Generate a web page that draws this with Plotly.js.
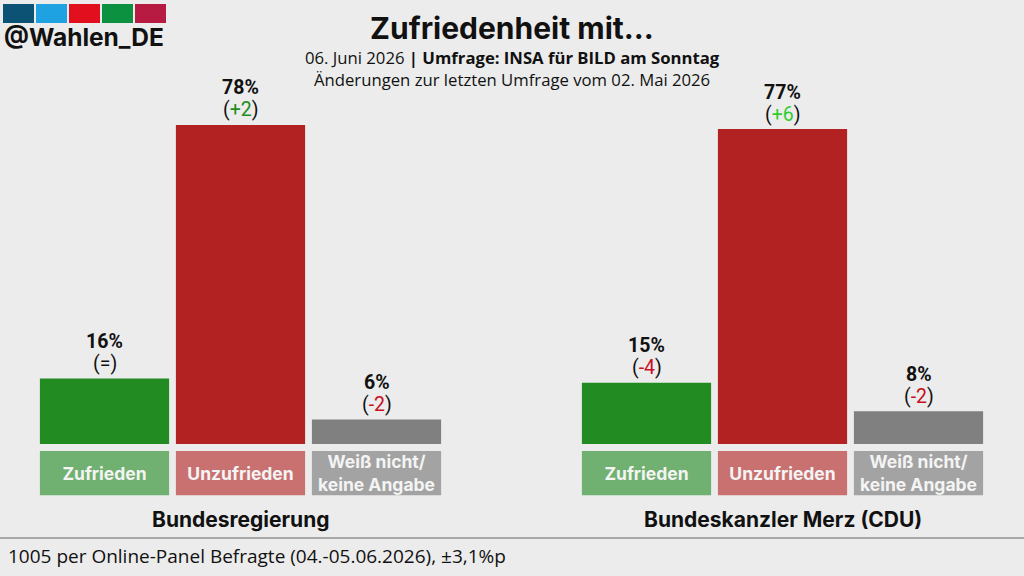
<!DOCTYPE html>
<html><head><meta charset="utf-8">
<script src="https://cdn.plot.ly/plotly-3.0.1.min.js"></script>
<style>html,body{margin:0;padding:0;background:#ececec;}#chart{width:1024px;height:576px;}</style>
</head><body><div id="chart"></div>
<script>
// ---- data ----
const categories = ["Zufrieden", "Unzufrieden", "Weiß nicht/<br>keine Angabe"];
const groupTitles = ["Bundesregierung", "Bundeskanzler Merz (CDU)"];
const regierungValues = [16, 78, 6];
const regierungChanges = ["=", "+2", "-2"];
const merzValues = [15, 77, 8];
const merzChanges = ["-4", "+6", "-2"];
const barColors = ["#228b22", "#b22222", "#808080"];
const boxColors = ["#70b070", "#c97070", "#a3a3a3"];
const changeColors = {"=": "#111111", "+2": "#1e8c1e", "+6": "#2fcc2f", "-2": "#c8101e", "-4": "#c8101e"};

const boxBase = -12.5, boxLen = 10.8;

function groupTraces(vals, xa) {
  return [
    {type: 'bar', x: categories, y: vals, xaxis: xa, yaxis: 'y',
     marker: {color: barColors}, hoverinfo: 'skip'},
    {type: 'bar', x: categories, y: categories.map(() => boxLen), base: boxBase, xaxis: xa, yaxis: 'y',
     marker: {color: boxColors}, text: categories, textposition: 'inside', insidetextanchor: 'middle',
     textfont: {family: 'Inter', size: 17.5, color: '#f4f4f4', weight: 700}, constraintext: 'none', hoverinfo: 'skip'}
  ];
}

function groupLabels(vals, chg, xa) {
  const out = [];
  vals.forEach((v, i) => {
    out.push({xref: xa, yref: 'y', x: categories[i], y: v, yshift: 37, yanchor: 'middle', showarrow: false,
      text: '<b>' + v + '%</b>', font: {family: 'Roboto', size: 19.5, color: '#111'}});
    out.push({xref: xa, yref: 'y', x: categories[i], y: v, yshift: 15, yanchor: 'middle', showarrow: false,
      text: '(<span style="color:' + changeColors[chg[i]] + '">' + chg[i] + '</span>)',
      font: {family: 'Roboto', size: 19.5, color: '#111'}});
  });
  return out;
}

const data = [].concat(groupTraces(regierungValues, 'x'), groupTraces(merzValues, 'x2'));

const axX = {type: 'category', showgrid: false, zeroline: false, showticklabels: false, showline: false, ticks: ''};
const logoColors = ["#0b5275", "#1ea2e2", "#e2101f", "#0b9140", "#b81b41"];
const shapes = logoColors.map((c, i) => ({type: 'rect', xref: 'paper', yref: 'paper',
  x0: (3 + i * 33) / 1024, x1: (34 + i * 33) / 1024, y0: 1 - 23 / 576, y1: 1 - 4 / 576,
  fillcolor: c, line: {width: 0}}));
shapes.push({type: 'line', xref: 'paper', yref: 'paper', x0: 0, x1: 1, y0: 1 - 538 / 576, y1: 1 - 538 / 576,
  line: {color: '#a8a8a8', width: 2}});

const annotations = [
  {text: '<b>@Wahlen_DE</b>', xref: 'paper', yref: 'paper', x: 2 / 1024, y: 1 - 37 / 576, xanchor: 'left', yanchor: 'middle',
   showarrow: false, font: {family: 'Inter', size: 24.5, color: '#111'}},
  {text: '06. Juni 2026 <b>| Umfrage: INSA für BILD am Sonntag</b>', xref: 'paper', yref: 'paper', x: 0.5, y: 1 - 57 / 576,
   yanchor: 'middle', showarrow: false, font: {family: 'Open Sans', size: 16.7, color: '#111'}},
  {text: 'Änderungen zur letzten Umfrage vom 02. Mai 2026', xref: 'paper', yref: 'paper', x: 0.5, y: 1 - 79 / 576,
   yanchor: 'middle', showarrow: false, font: {family: 'Open Sans', size: 16.7, color: '#111'}},
  {text: '<b>' + groupTitles[0] + '</b>', xref: 'x domain', yref: 'paper', x: 0.5, y: 1 - 519 / 576, yanchor: 'middle',
   showarrow: false, font: {family: 'Inter', size: 21, color: '#111'}},
  {text: '<b>' + groupTitles[1] + '</b>', xref: 'x2 domain', yref: 'paper', x: 0.5, y: 1 - 519 / 576, yanchor: 'middle',
   showarrow: false, font: {family: 'Inter', size: 21, color: '#111'}},
  {text: '1005 per Online-Panel Befragte (04.-05.06.2026), ±3,1%p', xref: 'paper', yref: 'paper', x: 6 / 1024, y: 1 - 556 / 576,
   xanchor: 'left', yanchor: 'middle', showarrow: false, font: {family: 'Open Sans', size: 19, color: '#111'}}
].concat(groupLabels(regierungValues, regierungChanges, 'x'), groupLabels(merzValues, merzChanges, 'x2'));

const pxPer = 4.09, zeroPx = 444;
const layout = {
  width: 1024, height: 576, margin: {l: 0, r: 0, t: 0, b: 0},
  paper_bgcolor: '#ececec', plot_bgcolor: 'rgba(0,0,0,0)',
  showlegend: false, barmode: 'overlay', bargap: 0.05,
  title: {text: '<b>Zufriedenheit mit...</b>', x: 0.5, xanchor: 'center', y: 1 - 28 / 576, yanchor: 'middle', yref: 'container',
          font: {family: 'Inter', size: 30, color: '#111'}},
  xaxis: Object.assign({domain: [36.5 / 1024, 444.5 / 1024], anchor: 'y'}, axX),
  xaxis2: Object.assign({domain: [578.5 / 1024, 986.5 / 1024], anchor: 'y'}, axX),
  yaxis: {range: [-(576 - zeroPx) / pxPer, zeroPx / pxPer], showgrid: false, zeroline: false, showticklabels: false, showline: false, ticks: ''},
  shapes: shapes, annotations: annotations
};
Plotly.newPlot('chart', data, layout, {staticPlot: true, displayModeBar: false});
</script></body></html>
